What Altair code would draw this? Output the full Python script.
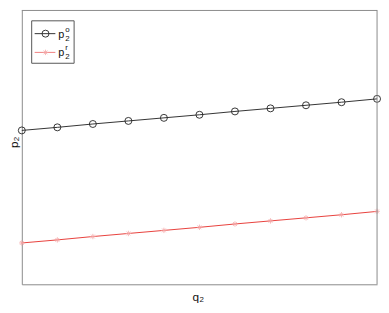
import altair as alt
import pandas as pd

q2 = [0, 1, 2, 3, 4, 5, 6, 7, 8, 9, 10]
p2_o = [0.551, 0.562, 0.574, 0.585, 0.596, 0.607, 0.619, 0.630, 0.641, 0.652, 0.664]
p2_r = [0.148, 0.159, 0.171, 0.182, 0.193, 0.204, 0.216, 0.227, 0.238, 0.249, 0.261]

df = pd.DataFrame({"q2": q2 + q2,
                   "p2": p2_o + p2_r,
                   "series": ["o"] * len(q2) + ["r"] * len(q2)})

W, H = 360, 278
FRAME = "#8a8a8a"

X = alt.X("q2:Q", scale=alt.Scale(domain=[0, 10], nice=False, zero=False),
          axis=alt.Axis(title=None, labels=False, ticks=False, grid=False, domainColor=FRAME))
Y = alt.Y("p2:Q", scale=alt.Scale(domain=[0, 0.9823], nice=False),
          axis=alt.Axis(title=None, labels=False, ticks=False, grid=False, domainColor=FRAME))

base = alt.Chart(df)
line_o = base.transform_filter("datum.series=='o'").mark_line(color="#333333", strokeWidth=1).encode(x=X, y=Y)
pts_o = base.transform_filter("datum.series=='o'").mark_point(shape="circle", filled=False, color="#222222",
                                                            size=50, strokeWidth=0.9, opacity=1).encode(x=X, y=Y)
line_r = base.transform_filter("datum.series=='r'").mark_line(color="#e8403c", strokeWidth=1).encode(x=X, y=Y)
star = "M-1,0L1,0M0,-1L0,1M-0.7,-0.7L0.7,0.7M-0.7,0.7L0.7,-0.7"
pts_r = base.transform_filter("datum.series=='r'").mark_point(shape=star, filled=False, color="#f4a8a8",
                                                            size=30, strokeWidth=0.8, opacity=1).encode(x=X, y=Y)

one = alt.Data(values=[{"a": 1}])
top_border = alt.Chart(one).mark_rule(color=FRAME, strokeWidth=1).encode(
    x=alt.value(0), x2=alt.value(W), y=alt.value(0.5))
right_border = alt.Chart(one).mark_rule(color=FRAME, strokeWidth=1).encode(
    x=alt.value(W), y=alt.value(0), y2=alt.value(H))

legend_box = alt.Chart(one).mark_rect(fill="white", stroke="#555555", strokeWidth=1).encode(
    x=alt.value(10), x2=alt.value(53), y=alt.value(11), y2=alt.value(54))
leg_line1 = alt.Chart(one).mark_rule(color="#333333", strokeWidth=1).encode(
    x=alt.value(13), x2=alt.value(34), y=alt.value(24))
leg_pt1 = alt.Chart(one).mark_point(shape="circle", filled=False, color="#222222", size=50,
                                    strokeWidth=0.9, opacity=1).encode(x=alt.value(24), y=alt.value(24))
leg_line2 = alt.Chart(one).mark_rule(color="#f08080", strokeWidth=1).encode(
    x=alt.value(13), x2=alt.value(34), y=alt.value(43))
leg_pt2 = alt.Chart(one).mark_point(shape=star, filled=False, color="#f4a8a8", size=30,
                                    strokeWidth=0.8, opacity=1).encode(x=alt.value(24), y=alt.value(43))

def txt(s, x, y, size, angle=0, align="left"):
    return alt.Chart(one).mark_text(text=s, align=align, baseline="middle", fontSize=size, angle=angle,
                                    font="Liberation Sans", color="#111111").encode(
        x=alt.value(x), y=alt.value(y))

texts = [
    txt("p", 37, 25, 11), txt("o", 44, 20, 8), txt("2", 44, 29, 8),
    txt("p", 37, 44, 11), txt("r", 44, 39, 8), txt("2", 44, 48, 8),
    # axis titles
    txt("q", 173, 291, 12), txt("2", 180, 294, 8),
    txt("p", -8, 140, 12, angle=270), txt("2", -5, 133, 8, angle=270),
]

chart = alt.layer(line_o, pts_o, line_r, pts_r, top_border, right_border,
                  legend_box, leg_line1, leg_pt1, leg_line2, leg_pt2, *texts).properties(
    width=W, height=H,
    autosize=alt.AutoSizeParams(type="none"),
    padding={"left": 14, "top": 0, "right": 4, "bottom": 20},
).configure_view(stroke=None)

chart.save("out.html", embed_options={"renderer": "svg", "actions": False})
